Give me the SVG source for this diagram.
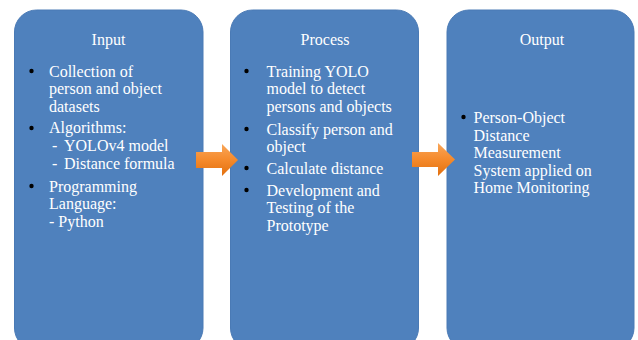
<svg xmlns="http://www.w3.org/2000/svg" width="638" height="340" viewBox="0 0 638 340">
<defs>
<linearGradient id="og" x1="0" y1="0" x2="0" y2="1">
<stop offset="0" stop-color="#f9a659"/>
<stop offset="0.5" stop-color="#f58a2c"/>
<stop offset="1" stop-color="#e2700f"/>
</linearGradient>
</defs>
<style>
.box{fill:#4f81bd;stroke:#4a7ab5;stroke-width:1}
.t{font-family:"Liberation Serif","Times New Roman",serif;font-size:16px;fill:#ffffff}
.ti{text-anchor:middle}
.dot{fill:#000000}
.arr{fill:url(#og)}
</style>
<rect width="638" height="340" fill="#ffffff"/>
<g id="input">
<rect class="box" x="14.5" y="10" width="188.5" height="340" rx="22" ry="22"/>
<text class="t ti" x="108.5" y="45">Input</text>
<circle class="dot" cx="31.5" cy="71" r="2.2"/>
<text class="t" x="49" y="76.5">Collection of</text>
<text class="t" x="49" y="94">person and object</text>
<text class="t" x="49" y="111.5">datasets</text>
<circle class="dot" cx="31.5" cy="128" r="2.2"/>
<text class="t" x="49" y="133">Algorithms:</text>
<text class="t" y="150.5"><tspan x="52">-</tspan><tspan x="64">YOLOv4 model</tspan></text>
<text class="t" y="168.5"><tspan x="52">-</tspan><tspan x="64">Distance formula</tspan></text>
<circle class="dot" cx="31.5" cy="186" r="2.2"/>
<text class="t" x="49" y="191.5">Programming</text>
<text class="t" x="49" y="209">Language:</text>
<text class="t" x="49" y="226.5">- Python</text>
</g>
<g id="process">
<rect class="box" x="230.5" y="10" width="188" height="340" rx="22" ry="22"/>
<text class="t ti" x="325" y="45">Process</text>
<circle class="dot" cx="246.5" cy="71" r="2.2"/>
<text class="t" x="266.5" y="76.5">Training YOLO</text>
<text class="t" x="266.5" y="94">model to detect</text>
<text class="t" x="266.5" y="111.5">persons and objects</text>
<circle class="dot" cx="246.5" cy="129" r="2.2"/>
<text class="t" x="266.5" y="134.5">Classify person and</text>
<text class="t" x="266.5" y="152">object</text>
<circle class="dot" cx="246.5" cy="168" r="2.2"/>
<text class="t" x="266.5" y="173.5">Calculate distance</text>
<circle class="dot" cx="246.5" cy="190" r="2.2"/>
<text class="t" x="266.5" y="195.5">Development and</text>
<text class="t" x="266.5" y="213">Testing of the</text>
<text class="t" x="266.5" y="230.5">Prototype</text>
</g>
<g id="output">
<rect class="box" x="447" y="10" width="187" height="340" rx="22" ry="22"/>
<text class="t ti" x="542" y="45">Output</text>
<circle class="dot" cx="463.5" cy="117" r="2.2"/>
<text class="t" x="473.5" y="123">Person-Object</text>
<text class="t" x="473.5" y="140.5">Distance</text>
<text class="t" x="473.5" y="158">Measurement</text>
<text class="t" x="473.5" y="175.5">System applied on</text>
<text class="t" x="473.5" y="193">Home Monitoring</text>
</g>
<g id="connectors">
<polygon class="arr" points="196,152 222,152 222,144 238,160 222,176 222,168 196,168"/>
<polygon class="arr" points="412,152 438,152 438,143 455,159.5 438,176 438,167 412,167"/>
</g>
</svg>
